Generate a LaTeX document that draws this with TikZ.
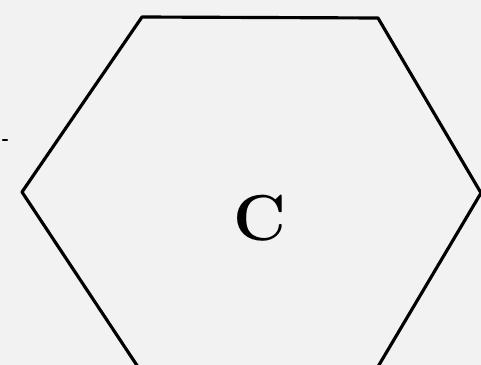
\documentclass[tikz,border=0pt]{standalone}
\begin{document}
\begin{tikzpicture}[x=0.02cm, y=-0.02cm, line join=round, line cap=round]
            \useasboundingbox (0,0) rectangle (481,365);
            \fill[black!5] (0,0) rectangle (481,365);
            \clip (0,0) rectangle (481,365);
            \coordinate (tl) at (142,17);
            \coordinate (tr) at (378,18);
            \coordinate (r) at (481,193);
            \coordinate (br) at (376,370);
            \coordinate (bl) at (140,370);
            \coordinate (l) at (22,192);
            \draw[line width=1.8pt] (tl)--(tr)--(r)--(br)--(bl)--(l)--cycle;
            \node (c) at (260,218) {\fontsize{37}{40}\selectfont\bfseries C};
            \draw[line width=1.4pt] (3,140)--(7,140);
        \end{tikzpicture}
\end{document}
